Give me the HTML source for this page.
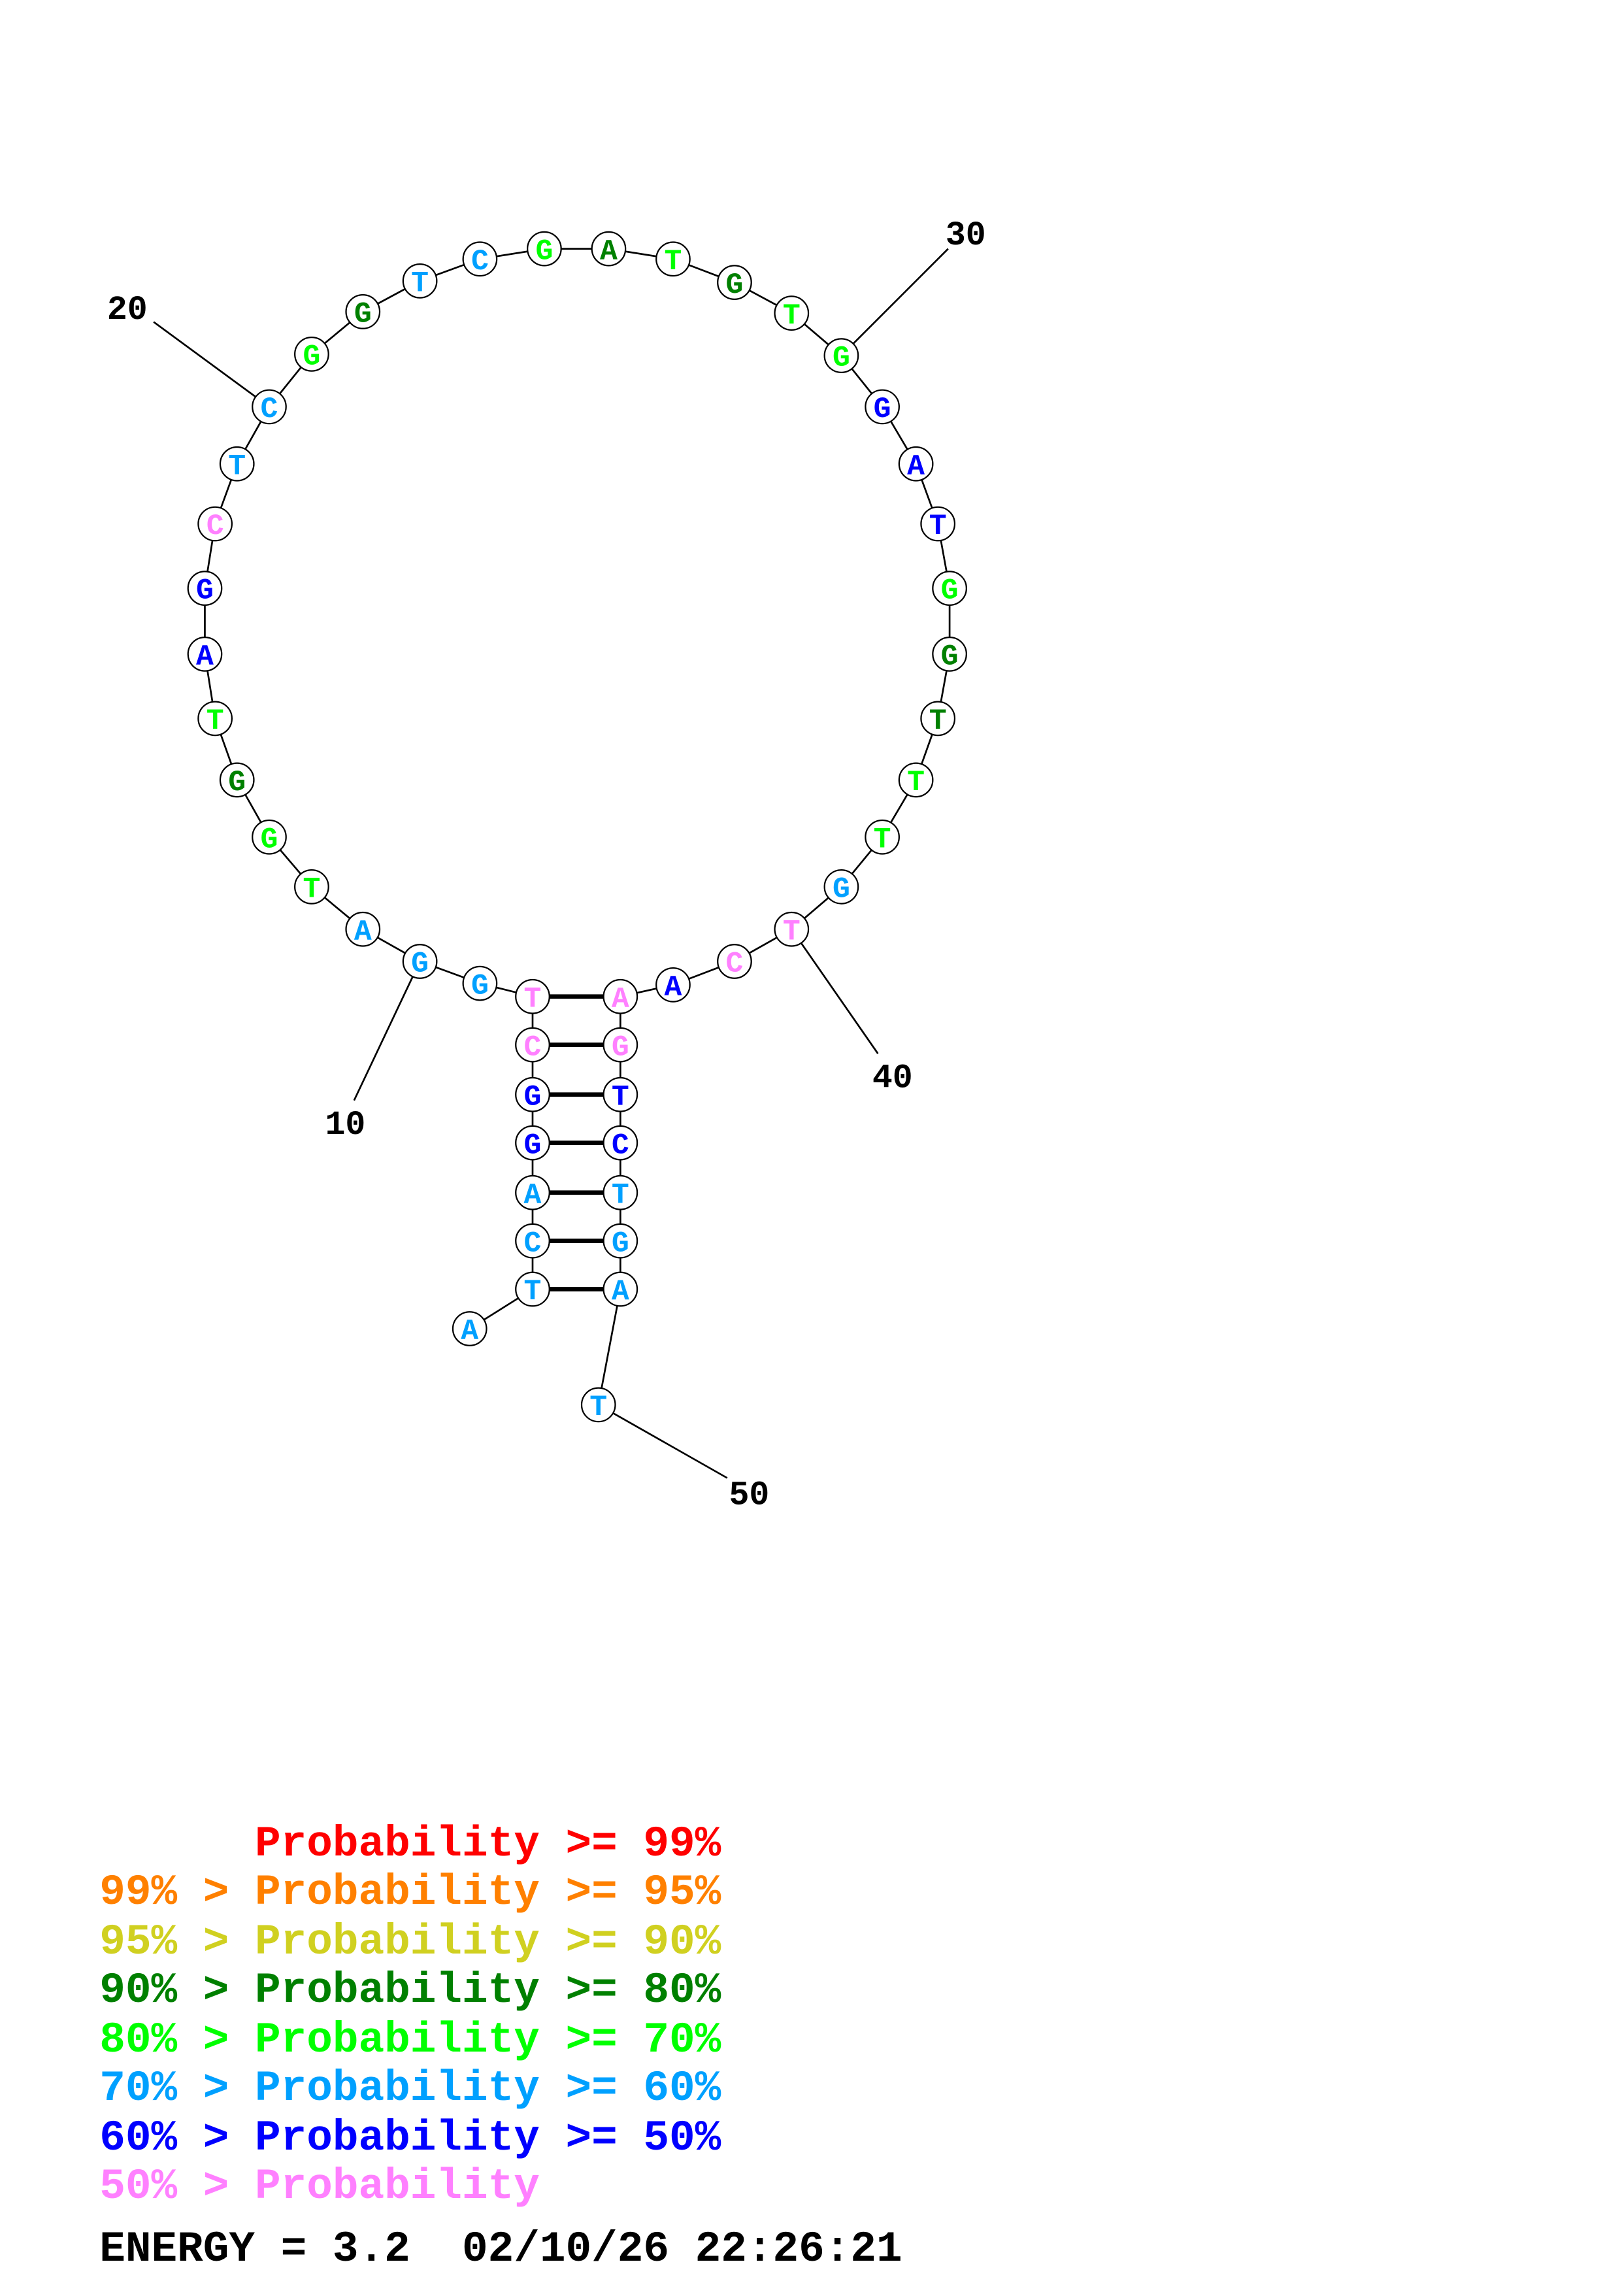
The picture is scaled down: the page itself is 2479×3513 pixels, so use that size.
<!DOCTYPE html>
<html><head><meta charset="utf-8"><style>html,body{margin:0;padding:0;background:#fff}</style></head>
<body>
<svg xmlns="http://www.w3.org/2000/svg" width="2479" height="3508" viewBox="0 0 1100 1556.6">
<rect width="1100" height="1557" fill="#fff"/>
<g transform="scale(0.9935)">
<g stroke="#000" stroke-width="1.2" fill="none">
<polyline points="321,908 364,881 364,848 364,815 364,781 364,748 364,714 364,681 328,672 287,657 248,635 213,606 184,572 162,533 147,491 140,447 140,402 147,358 162,317 184,278 213,242 248,213 287,192 328,177 372,170 416,170 460,177 502,193 541,214 575,243 603,278 626,317 641,358 649,402 649,447 641,491 626,533 603,572 575,606 541,635 502,657 460,673 424,681 424,714 424,748 424,781 424,815 424,848 424,881 409,960"/>
<line x1="287" y1="657" x2="242" y2="752"/>
<line x1="184" y1="278" x2="105" y2="220"/>
<line x1="575" y1="243" x2="648" y2="170"/>
<line x1="541" y1="635" x2="600" y2="720"/>
<line x1="409" y1="960" x2="497" y2="1010"/>
</g>
<g stroke="#000" stroke-width="3">
<line x1="364" y1="681" x2="424" y2="681"/><line x1="364" y1="714" x2="424" y2="714"/>
<line x1="364" y1="748" x2="424" y2="748"/><line x1="364" y1="781" x2="424" y2="781"/>
<line x1="364" y1="815" x2="424" y2="815"/><line x1="364" y1="848" x2="424" y2="848"/>
<line x1="364" y1="881" x2="424" y2="881"/>
</g>
<g font-family="Liberation Mono, monospace" font-weight="bold" font-size="23" fill="#000" text-anchor="middle">
<text x="236" y="775">10</text><text x="87" y="218">20</text><text x="660" y="167">30</text><text x="610" y="743">40</text><text x="512" y="1028">50</text>
</g>
<g font-family="Liberation Mono, monospace" font-weight="bold" font-size="29.5">
<text x="68" y="1268" fill="#ff0000">&#160;&#160;&#160;&#160;&#160;&#160;Probability&#160;&gt;=&#160;99%</text>
<text x="68" y="1301" fill="#ff8000">99%&#160;&gt;&#160;Probability&#160;&gt;=&#160;95%</text>
<text x="68" y="1335" fill="#d0d020">95%&#160;&gt;&#160;Probability&#160;&gt;=&#160;90%</text>
<text x="68" y="1368" fill="#008000">90%&#160;&gt;&#160;Probability&#160;&gt;=&#160;80%</text>
<text x="68" y="1402" fill="#00ff00">80%&#160;&gt;&#160;Probability&#160;&gt;=&#160;70%</text>
<text x="68" y="1435" fill="#00a0ff">70%&#160;&gt;&#160;Probability&#160;&gt;=&#160;60%</text>
<text x="68" y="1469" fill="#0000ff">60%&#160;&gt;&#160;Probability&#160;&gt;=&#160;50%</text>
<text x="68" y="1502" fill="#ff80ff">50%&#160;&gt;&#160;Probability</text>
<text x="68" y="1545" fill="#000">ENERGY&#160;=&#160;3.2&#160;&#160;02/10/26&#160;22:26:21</text>
</g>
<g font-family="Liberation Mono, monospace" font-weight="bold" font-size="20" text-anchor="middle" stroke-width="1">
<circle cx="321" cy="908" r="11.5" fill="#fff" stroke="#000"/><text x="321" y="915" fill="#00a0ff">A</text>
<circle cx="364" cy="881" r="11.5" fill="#fff" stroke="#000"/><text x="364" y="888" fill="#00a0ff">T</text>
<circle cx="364" cy="848" r="11.5" fill="#fff" stroke="#000"/><text x="364" y="855" fill="#00a0ff">C</text>
<circle cx="364" cy="815" r="11.5" fill="#fff" stroke="#000"/><text x="364" y="822" fill="#00a0ff">A</text>
<circle cx="364" cy="781" r="11.5" fill="#fff" stroke="#000"/><text x="364" y="788" fill="#0000ff">G</text>
<circle cx="364" cy="748" r="11.5" fill="#fff" stroke="#000"/><text x="364" y="755" fill="#0000ff">G</text>
<circle cx="364" cy="714" r="11.5" fill="#fff" stroke="#000"/><text x="364" y="721" fill="#ff80ff">C</text>
<circle cx="364" cy="681" r="11.5" fill="#fff" stroke="#000"/><text x="364" y="688" fill="#ff80ff">T</text>
<circle cx="328" cy="672" r="11.5" fill="#fff" stroke="#000"/><text x="328" y="679" fill="#00a0ff">G</text>
<circle cx="287" cy="657" r="11.5" fill="#fff" stroke="#000"/><text x="287" y="664" fill="#00a0ff">G</text>
<circle cx="248" cy="635" r="11.5" fill="#fff" stroke="#000"/><text x="248" y="642" fill="#00a0ff">A</text>
<circle cx="213" cy="606" r="11.5" fill="#fff" stroke="#000"/><text x="213" y="613" fill="#00ff00">T</text>
<circle cx="184" cy="572" r="11.5" fill="#fff" stroke="#000"/><text x="184" y="579" fill="#00ff00">G</text>
<circle cx="162" cy="533" r="11.5" fill="#fff" stroke="#000"/><text x="162" y="540" fill="#008000">G</text>
<circle cx="147" cy="491" r="11.5" fill="#fff" stroke="#000"/><text x="147" y="498" fill="#00ff00">T</text>
<circle cx="140" cy="447" r="11.5" fill="#fff" stroke="#000"/><text x="140" y="454" fill="#0000ff">A</text>
<circle cx="140" cy="402" r="11.5" fill="#fff" stroke="#000"/><text x="140" y="409" fill="#0000ff">G</text>
<circle cx="147" cy="358" r="11.5" fill="#fff" stroke="#000"/><text x="147" y="365" fill="#ff80ff">C</text>
<circle cx="162" cy="317" r="11.5" fill="#fff" stroke="#000"/><text x="162" y="324" fill="#00a0ff">T</text>
<circle cx="184" cy="278" r="11.5" fill="#fff" stroke="#000"/><text x="184" y="285" fill="#00a0ff">C</text>
<circle cx="213" cy="242" r="11.5" fill="#fff" stroke="#000"/><text x="213" y="249" fill="#00ff00">G</text>
<circle cx="248" cy="213" r="11.5" fill="#fff" stroke="#000"/><text x="248" y="220" fill="#008000">G</text>
<circle cx="287" cy="192" r="11.5" fill="#fff" stroke="#000"/><text x="287" y="199" fill="#00a0ff">T</text>
<circle cx="328" cy="177" r="11.5" fill="#fff" stroke="#000"/><text x="328" y="184" fill="#00a0ff">C</text>
<circle cx="372" cy="170" r="11.5" fill="#fff" stroke="#000"/><text x="372" y="177" fill="#00ff00">G</text>
<circle cx="416" cy="170" r="11.5" fill="#fff" stroke="#000"/><text x="416" y="177" fill="#008000">A</text>
<circle cx="460" cy="177" r="11.5" fill="#fff" stroke="#000"/><text x="460" y="184" fill="#00ff00">T</text>
<circle cx="502" cy="193" r="11.5" fill="#fff" stroke="#000"/><text x="502" y="200" fill="#008000">G</text>
<circle cx="541" cy="214" r="11.5" fill="#fff" stroke="#000"/><text x="541" y="221" fill="#00ff00">T</text>
<circle cx="575" cy="243" r="11.5" fill="#fff" stroke="#000"/><text x="575" y="250" fill="#00ff00">G</text>
<circle cx="603" cy="278" r="11.5" fill="#fff" stroke="#000"/><text x="603" y="285" fill="#0000ff">G</text>
<circle cx="626" cy="317" r="11.5" fill="#fff" stroke="#000"/><text x="626" y="324" fill="#0000ff">A</text>
<circle cx="641" cy="358" r="11.5" fill="#fff" stroke="#000"/><text x="641" y="365" fill="#0000ff">T</text>
<circle cx="649" cy="402" r="11.5" fill="#fff" stroke="#000"/><text x="649" y="409" fill="#00ff00">G</text>
<circle cx="649" cy="447" r="11.5" fill="#fff" stroke="#000"/><text x="649" y="454" fill="#008000">G</text>
<circle cx="641" cy="491" r="11.5" fill="#fff" stroke="#000"/><text x="641" y="498" fill="#008000">T</text>
<circle cx="626" cy="533" r="11.5" fill="#fff" stroke="#000"/><text x="626" y="540" fill="#00ff00">T</text>
<circle cx="603" cy="572" r="11.5" fill="#fff" stroke="#000"/><text x="603" y="579" fill="#00ff00">T</text>
<circle cx="575" cy="606" r="11.5" fill="#fff" stroke="#000"/><text x="575" y="613" fill="#00a0ff">G</text>
<circle cx="541" cy="635" r="11.5" fill="#fff" stroke="#000"/><text x="541" y="642" fill="#ff80ff">T</text>
<circle cx="502" cy="657" r="11.5" fill="#fff" stroke="#000"/><text x="502" y="664" fill="#ff80ff">C</text>
<circle cx="460" cy="673" r="11.5" fill="#fff" stroke="#000"/><text x="460" y="680" fill="#0000ff">A</text>
<circle cx="424" cy="681" r="11.5" fill="#fff" stroke="#000"/><text x="424" y="688" fill="#ff80ff">A</text>
<circle cx="424" cy="714" r="11.5" fill="#fff" stroke="#000"/><text x="424" y="721" fill="#ff80ff">G</text>
<circle cx="424" cy="748" r="11.5" fill="#fff" stroke="#000"/><text x="424" y="755" fill="#0000ff">T</text>
<circle cx="424" cy="781" r="11.5" fill="#fff" stroke="#000"/><text x="424" y="788" fill="#0000ff">C</text>
<circle cx="424" cy="815" r="11.5" fill="#fff" stroke="#000"/><text x="424" y="822" fill="#00a0ff">T</text>
<circle cx="424" cy="848" r="11.5" fill="#fff" stroke="#000"/><text x="424" y="855" fill="#00a0ff">G</text>
<circle cx="424" cy="881" r="11.5" fill="#fff" stroke="#000"/><text x="424" y="888" fill="#00a0ff">A</text>
<circle cx="409" cy="960" r="11.5" fill="#fff" stroke="#000"/><text x="409" y="967" fill="#00a0ff">T</text>
</g>
</g>
</svg>
</body></html>
